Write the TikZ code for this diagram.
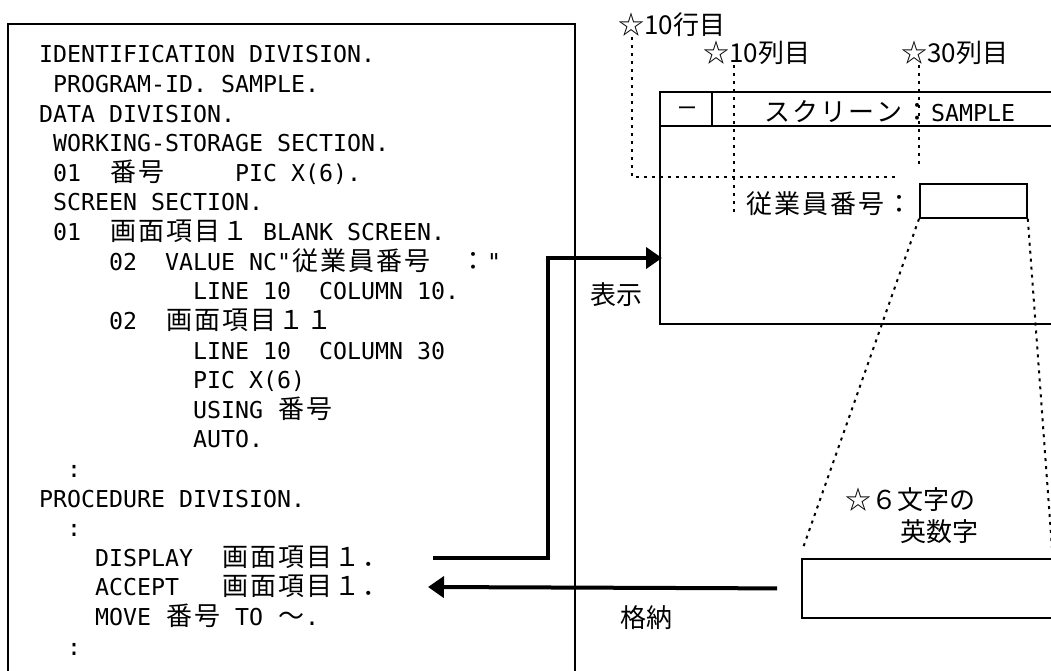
\documentclass[tikz,border=0pt]{standalone}
\usepackage{fontspec}
\newfontfamily\codefont{DejaVu Sans Mono}
\newfontfamily\jpfont{Noto Sans CJK JP}
\usetikzlibrary{arrows.meta,calc}
\frenchspacing

% full-width cells: each CJK char takes two mono columns
\makeatletter
\newcommand\zen[1]{\zen@loop#1\zen@stop}
\def\zen@stop{\zen@stop}
\def\zen@loop#1{\ifx#1\zen@stop\else\makebox[28pt][c]{\jpfont\fontsize{26pt}{30pt}\selectfont#1}\expandafter\zen@loop\fi}
\makeatother

\begin{document}
\begin{tikzpicture}[x=1pt,y=-1pt,
  frame/.style={draw,line width=1.8pt},
  leader/.style={line width=2pt,dash pattern=on 3pt off 5pt},
  flow/.style={line width=4pt,-{Triangle[length=16pt,width=21pt]}},
  code/.style={anchor=base west,inner sep=0pt,font=\codefont\fontsize{23.25pt}{29.6pt}\selectfont},
  lbl/.style={inner sep=0pt,font=\jpfont\fontsize{26pt}{32pt}\selectfont}]
\useasboundingbox (0,0) rectangle (1051,671);
\clip (0,0) rectangle (1051,671);

% Source listing
\node[frame,anchor=north west,minimum width=567pt,minimum height=700pt] (src) at (7,23) {};
\foreach \stmt [count=\i] in {
  {IDENTIFICATION DIVISION.},
  {~PROGRAM-ID. SAMPLE.},
  {DATA DIVISION.},
  {~WORKING-STORAGE SECTION.},
  {~01~~\zen{番号}~~~~~PIC X(6).},
  {~SCREEN SECTION.},
  {~01~~\zen{画面項目１}~BLANK SCREEN.},
  {~~~~~02~~VALUE NC"\zen{従業員番号}~~\zen{：}"},
  {~~~~~~~~~~~LINE 10~~COLUMN 10.},
  {~~~~~02~~\zen{画面項目１１}},
  {~~~~~~~~~~~LINE 10~~COLUMN 30},
  {~~~~~~~~~~~PIC X(6)},
  {~~~~~~~~~~~USING \zen{番号}},
  {~~~~~~~~~~~AUTO.},
  {~~:},
  {PROCEDURE DIVISION.},
  {~~:},
  {~~~~DISPLAY~~\zen{画面項目１．}},
  {~~~~ACCEPT~~~\zen{画面項目１．}},
  {~~~~MOVE \zen{番号} TO \zen{～}.},
  {~~:}} {
  \node[code] (c\i) at (39,33.4+29.6*\i) {\stmt};
}

% Screen window
\node[frame,anchor=north west,minimum width=450pt,minimum height=232pt] (scr) at (659,91) {};
\draw[frame] ($(scr.north west)+(0,35)$) -- ($(scr.north east)+(0,35)$);
\draw[frame] ($(scr.north west)+(53,0)$) -- ($(scr.north west)+(53,35)$);
\node[lbl,font=\jpfont\fontsize{20pt}{24pt}\selectfont] (minbtn) at (687,111) {ー};
\node[code] (title) at (763,122) {\zen{スクリーン：}SAMPLE};
\node[code] (fieldlbl) at (745,213) {\zen{従業員番号：}};
\node[frame,anchor=north west,minimum width=107pt,minimum height=34pt] (inp) at (919,183) {};

% Position notes
\node[lbl,anchor=west] (row10) at (618,25) {☆10行目};
\node[lbl,anchor=west] (col10) at (703,53) {☆10列目};
\node[lbl,anchor=west] (col30) at (901,53) {☆30列目};
\coordinate (row10end) at (900,177);
\coordinate (col10end) at (734,215);
\coordinate (col30end) at (919,167);
\draw[leader] ([xshift=14pt]row10.south west) |- (row10end);
\draw[leader] (col10.south -| col10end) -- (col10end);
\draw[leader] (col30.south -| col30end) -- (col30end);

% Zoomed field
\node[frame,anchor=north west,minimum width=400pt,minimum height=59pt] (chars) at (801,558) {};
\coordinate (zoomL) at (803,548);
\coordinate (zoomR) at (1052,548);
\draw[leader] (inp.south west) -- (zoomL);
\draw[leader] (inp.south east) -- (zoomR);
\node[lbl,align=left,anchor=west] (note6) at (845,516) {☆６文字の\\\hspace*{55pt}英数字};

% Display / accept
\coordinate (dispout) at (433,558);
\coordinate (dispbend) at (548,258);
\coordinate (accin) at (428,587);
\draw[flow,shorten >=-3pt] (dispout) -| (dispbend) -- (dispbend -| scr.west);
\draw[flow] ([xshift=-24pt]chars.west) -- (accin);
\node[lbl] (show) at (616,295) {表示};
\node[lbl] (store) at (646,618) {格納};
\end{tikzpicture}
\end{document}
